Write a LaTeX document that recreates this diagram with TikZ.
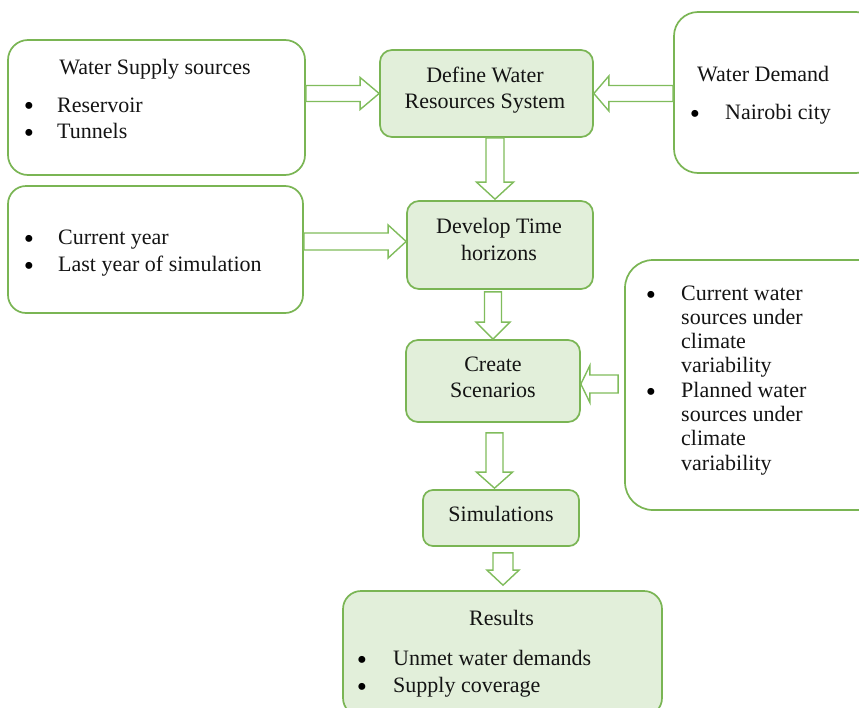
\documentclass[tikz,border=0pt]{standalone}
\usepackage{fontspec}
\setmainfont{Liberation Serif}
\usetikzlibrary{calc}
\definecolor{gline}{RGB}{122,181,84}
\definecolor{gfill}{RGB}{226,239,218}
\definecolor{aline}{RGB}{128,188,92}
\definecolor{ink}{RGB}{20,20,20}
\tikzset{
  box/.style={draw=gline, line width=1.7pt, inner sep=0pt},
  wbox/.style={box, fill=white},
  fbox/.style={box, fill=gfill},
  txt/.style={inner sep=0pt, font=\fontsize{22}{26}\selectfont, text=ink},
  ctxt/.style={txt, anchor=base},
  ltxt/.style={txt, anchor=base west},
  bul/.style={inner sep=0pt, anchor=base, text=black, text height=13pt, text depth=0pt, font=\fontsize{29}{29}\selectfont},
  blk/.style={draw=aline, line width=1.4pt, fill=white, line join=miter},
}
% horizontal block arrow: tail, tip, shaft half width, head half width, head length
\newcommand{\hblk}[5]{%
  \draw[blk] let \p1=(#1), \p2=(#2), \n1={ifthenelse(\x2>\x1,1,-1)} in
    (\x1,\y1+#3) -- ({\x2-(\n1)*#5},\y1+#3) -- ({\x2-(\n1)*#5},\y1+#4) -- (\x2,\y1)
    -- ({\x2-(\n1)*#5},\y1-#4) -- ({\x2-(\n1)*#5},\y1-#3) -- (\x1,\y1-#3) -- cycle;}
% vertical block arrow
\newcommand{\vblk}[5]{%
  \draw[blk] let \p1=(#1), \p2=(#2), \n1={ifthenelse(\y2>\y1,1,-1)} in
    (\x1+#3,\y1) -- (\x1+#3,{\y2-(\n1)*#5}) -- (\x1+#4,{\y2-(\n1)*#5}) -- (\x1,\y2)
    -- (\x1-#4,{\y2-(\n1)*#5}) -- (\x1-#3,{\y2-(\n1)*#5}) -- (\x1-#3,\y1) -- cycle;}
\begin{document}
\begin{tikzpicture}[x=1pt,y=-1pt]
\useasboundingbox (0,0) rectangle (859,707);
\clip (0,0) rectangle (859,707);
\fill[white] (0,0) rectangle (859,707);

% boxes
\node[wbox, rounded corners=20pt, minimum width=297pt, minimum height=135pt] (A) at (156.5,107.5) {};
\node[fbox, rounded corners=12pt, minimum width=213pt, minimum height=87pt] (B) at (486.5,93.5) {};
\node[wbox, rounded corners=24pt, minimum width=206pt, minimum height=161pt] (C) at (777,92.5) {};
\node[wbox, rounded corners=18pt, minimum width=295pt, minimum height=127pt] (D) at (155.5,249.5) {};
\node[fbox, rounded corners=12pt, minimum width=186pt, minimum height=88pt] (E) at (500,245) {};
\node[wbox, rounded corners=28pt, minimum width=260pt, minimum height=250pt] (F) at (755,385) {};
\node[fbox, rounded corners=12pt, minimum width=174pt, minimum height=82pt] (G) at (493,381) {};
\node[fbox, rounded corners=10pt, minimum width=156pt, minimum height=56pt] (H) at (501,518) {};
\node[fbox, rounded corners=18pt, minimum width=319pt, minimum height=125pt] (I) at (502.5,653.5) {};

% texts
\node[ctxt] (a0) at (155,74) {Water Supply sources};
\node[bul] (a1b) at (29,115.5) {•};
\node[ltxt] (a1) at (57,112) {Reservoir};
\node[bul] (a2b) at (29,142.5) {•};
\node[ltxt] (a2) at (57,138) {Tunnels};

\node[ctxt] (b1) at (485,82) {Define Water};
\node[ctxt] (b2) at (485,108) {Resources System};

\node[ltxt] (c0) at (697,81) {Water Demand};
\node[bul] (c1b) at (695,123) {•};
\node[ltxt] (c1) at (725,119) {Nairobi city};

\node[bul] (d1b) at (29,248) {•};
\node[ltxt] (d1) at (58,244) {Current year};
\node[bul] (d2b) at (29,275) {•};
\node[ltxt] (d2) at (58,271) {Last year of simulation};

\node[ctxt] (e1) at (499,233) {Develop Time};
\node[ctxt] (e2) at (499,260) {horizons};

\node[bul] (f1b) at (651,304) {•};
\node[ltxt] (f1) at (681,300) {Current water};
\node[ltxt] (f2) at (681,324) {sources under};
\node[ltxt] (f3) at (681,348) {climate};
\node[ltxt] (f4) at (681,372) {variability};
\node[bul] (f5b) at (651,401) {•};
\node[ltxt] (f5) at (681,397) {Planned water};
\node[ltxt] (f6) at (681,421) {sources under};
\node[ltxt] (f7) at (681,445) {climate};
\node[ltxt] (f8) at (681,470) {variability};

\node[ctxt] (g1) at (493,371) {Create};
\node[ctxt] (g2) at (493,397) {Scenarios};

\node[ctxt] (h1) at (501,521) {Simulations};

\node[ctxt] (i0) at (501.5,625) {Results};
\node[bul] (i1b) at (362,669) {•};
\node[ltxt] (i1) at (393,665) {Unmet water demands};
\node[bul] (i2b) at (362,696) {•};
\node[ltxt] (i2) at (393,692) {Supply coverage};

% arrow anchor points
\coordinate (abT) at (A.east |- B.west);
\coordinate (cbT) at (C.west |- B.east);
\coordinate (deTip) at ($(E.west)+(0,-3.5)$);
\coordinate (deT) at (D.east |- deTip);
\coordinate (fgTip) at ($(G.east)+(0,3)$);
\coordinate (fgT) at ($(fgTip -| F.west)+(-6,0)$);
\coordinate (beT) at ($(B.south)+(8.5,0)$);
\coordinate (beTip) at ($(beT |- E.north)+(0,-1)$);
\coordinate (egT) at ($(G.north |- E.south)+(0,2)$);
\coordinate (ghT) at ($(G.south)+(1.5,10)$);
\coordinate (ghTip) at ($(ghT |- H.north)+(0,-1)$);
\coordinate (hiT) at ($(H.south)+(2,6)$);
\coordinate (hiTip) at ($(hiT |- I.north)+(0,-5)$);

% block arrows
\hblk{abT}{B.west}{8pt}{16pt}{19pt}
\hblk{cbT}{B.east}{8pt}{17.5pt}{15pt}
\hblk{deT}{deTip}{8.5pt}{16.5pt}{18pt}
\hblk{fgT}{fgTip}{9pt}{18.5pt}{9pt}
\vblk{beT}{beTip}{9pt}{18.5pt}{17pt}
\vblk{egT}{G.north}{8.5pt}{17pt}{17pt}
\vblk{ghT}{ghTip}{8.5pt}{18pt}{16pt}
\vblk{hiT}{hiTip}{10pt}{16pt}{15pt}
\end{tikzpicture}
\end{document}
